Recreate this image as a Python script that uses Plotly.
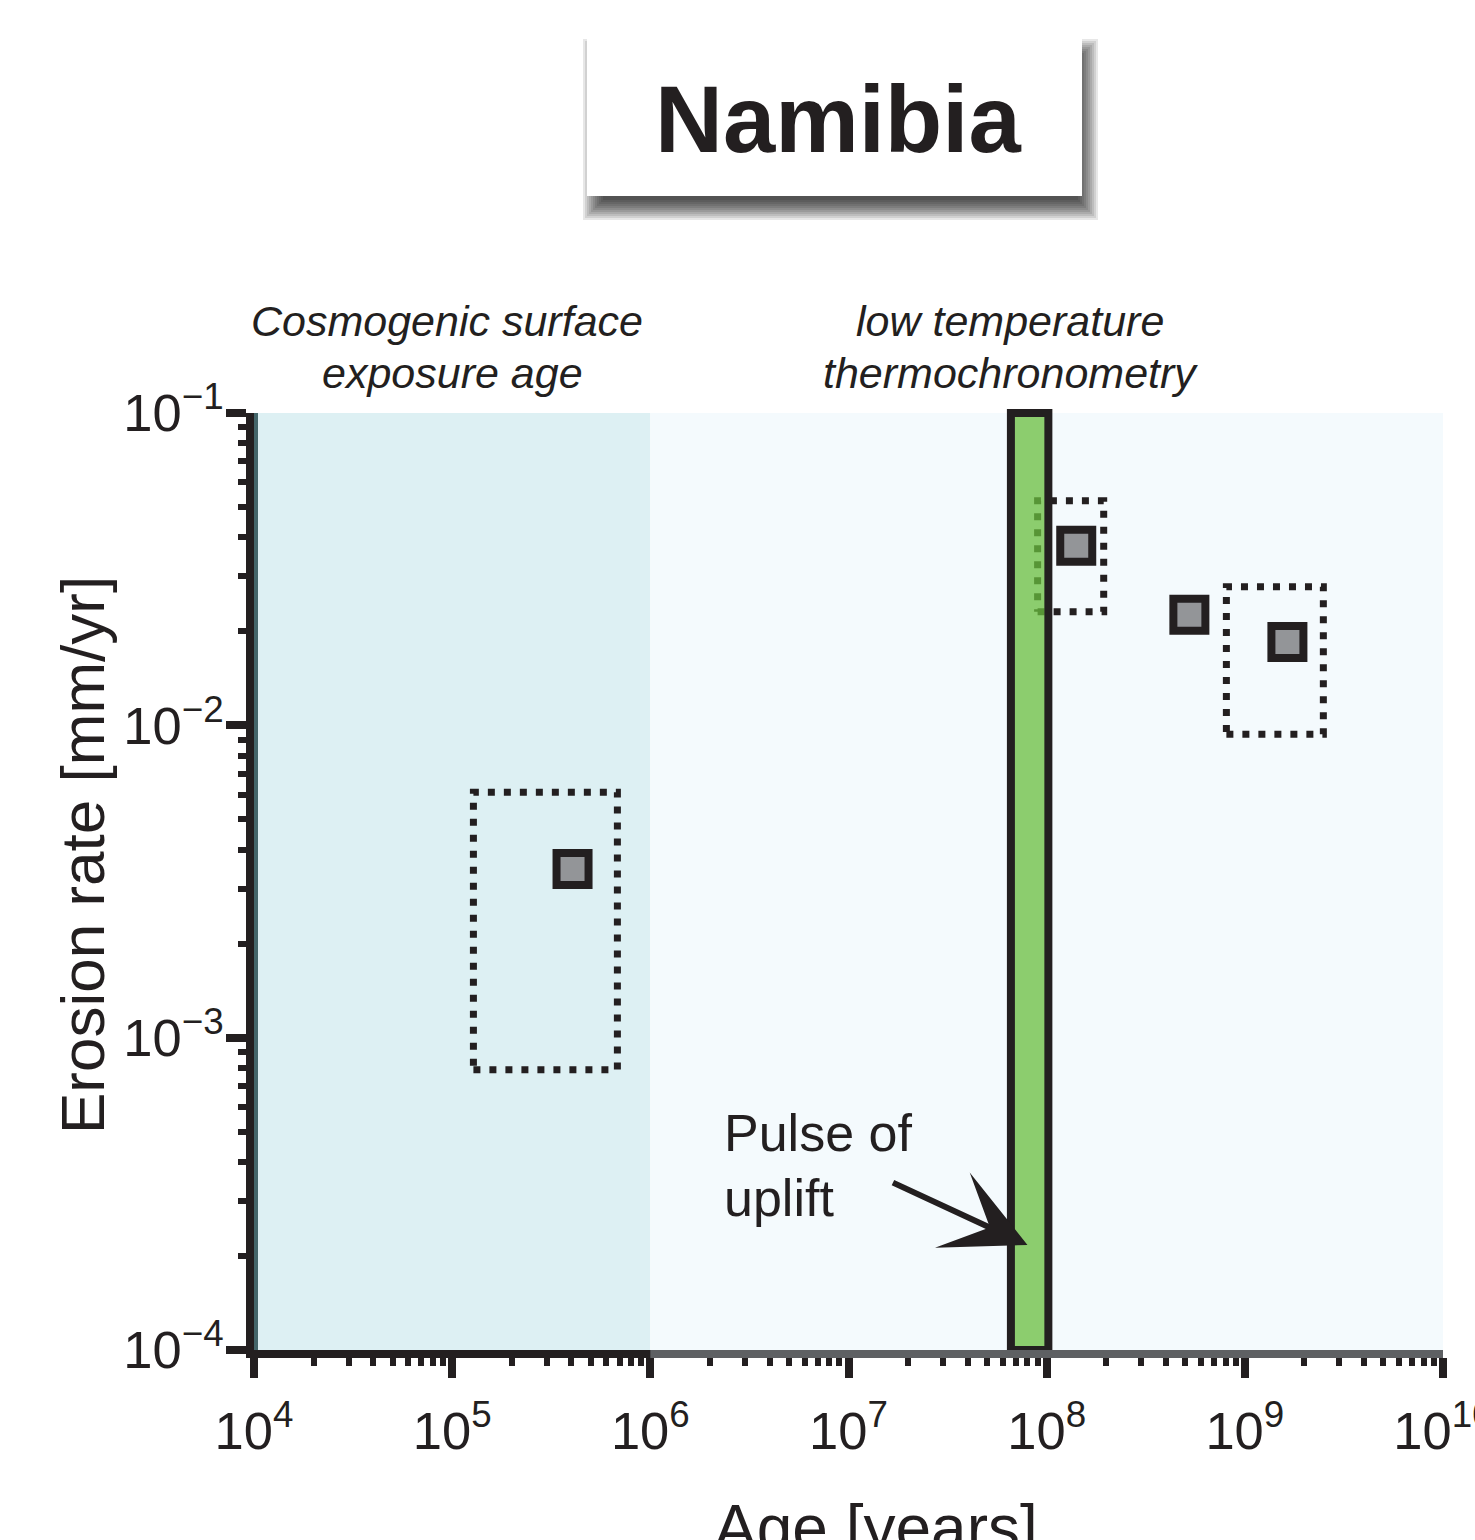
import math
import plotly.graph_objects as go

# ---------------- data ----------------
sample_age = [4.05e5, 1.41e8, 5.25e8, 1.64e9]          # years
sample_rate = [3.47e-3, 3.76e-2, 2.26e-2, 1.85e-2]     # mm/yr
box_age_min = [1.28e5, 9.0e7, 8.07e8]
box_age_max = [6.82e5, 1.94e8, 2.49e9]
box_rate_min = [7.9e-4, 2.31e-2, 9.36e-3]
box_rate_max = [6.11e-3, 5.24e-2, 2.78e-2]
cosmo_range = [1e4, 1e6]
thermo_range = [1e6, 1e10]
uplift_range = [6.6e7, 1.02e8]
arrow_tip_age = 8.0e7
arrow_tip_rate = 2.17e-4
x_range_exp = [4, 10]
y_range_exp = [-4, -1]

# ---------------- layout helpers ----------------
W, H = 1475, 1540
L, R, T, B = 254, 32, 413, 190
PW = W - L - R
PH = H - T - B


def px(x):
    return (x - L) / PW


def py(y):
    return (H - B - y) / PH


INK = "#231f20"
FONT = "Liberation Sans, Arial, Helvetica, sans-serif"

fig = go.Figure()

# dotted uncertainty boxes
for a0, a1, r0, r1 in zip(box_age_min, box_age_max, box_rate_min, box_rate_max):
    fig.add_trace(go.Scatter(
        x=[a0, a1, a1, a0, a0], y=[r0, r0, r1, r1, r0], mode="lines",
        line=dict(color=INK, width=7, dash="7px,9px"),
        hoverinfo="skip", showlegend=False))

# sample points
fig.add_trace(go.Scatter(
    x=sample_age, y=sample_rate, mode="markers",
    marker=dict(symbol="square", size=32, color="#939598",
                line=dict(color=INK, width=8)),
    showlegend=False))

shapes = []
# shaded method ranges
shapes.append(dict(type="rect", xref="x", yref="paper", x0=cosmo_range[0], x1=cosmo_range[1],
                   y0=0, y1=1, fillcolor="#ddf0f3", line=dict(width=0), layer="below"))
shapes.append(dict(type="rect", xref="x", yref="paper", x0=thermo_range[0], x1=thermo_range[1],
                   y0=0, y1=1, fillcolor="#f4fafd", line=dict(width=0), layer="below"))
# uplift pulse bar
shapes.append(dict(type="rect", xref="x", yref="paper", x0=uplift_range[0], x1=uplift_range[1],
                   y0=0, y1=1, fillcolor="rgba(105,190,62,0.75)",
                   line=dict(color=INK, width=8), layer="above"))
# greyed bottom spine under the light overlay
shapes.append(dict(type="line", xref="x", yref="paper", x0=thermo_range[0], x1=thermo_range[1],
                   y0=py(1354), y1=py(1354), line=dict(color="#5e6063", width=8), layer="above"))
# dark teal inner edge of left spine
shapes.append(dict(type="line", xref="paper", yref="paper", x0=px(256), x1=px(256),
                   y0=0, y1=1, line=dict(color="#44666a", width=4), layer="above"))

# title box with soft shadow
bx0, bx1, by0, by1 = 587, 1082, 35, 196
sdx, sdy = 6, 14
for g in range(-10, 11, 2):
    shapes.append(dict(type="rect", xref="paper", yref="paper",
                       x0=px(bx0 + sdx - g), x1=px(bx1 + sdx + g),
                       y0=py(by1 + sdy + g), y1=py(by0 + sdy - g),
                       fillcolor="rgba(0,0,0,0.095)", line=dict(width=0), layer="above"))
shapes.append(dict(type="rect", xref="paper", yref="paper",
                   x0=px(bx0), x1=px(bx1), y0=py(by1), y1=py(by0),
                   fillcolor="white", line=dict(width=0), layer="above"))

annotations = []


def txt(text, x, y, size, italic=False, bold=False, xanchor="center", angle=0):
    t = text
    if bold:
        t = "<b>" + t + "</b>"
    if italic:
        t = "<i>" + t + "</i>"
    annotations.append(dict(text=t, xref="paper", yref="paper", x=px(x), y=py(y),
                            xanchor=xanchor, yanchor="middle", showarrow=False,
                            textangle=angle,
                            font=dict(family=FONT, size=size, color=INK)))


txt("Namibia", 838, 120, 94, bold=True)
txt("Cosmogenic surface", 447, 321, 43, italic=True)
txt("exposure age", 452, 373, 43, italic=True)
txt("low temperature", 1010, 321, 43, italic=True)
txt("thermochronometry", 1010, 373, 43, italic=True)
txt("Pulse of", 722, 1133, 52, xanchor="left")
txt("uplift", 722, 1198, 52, xanchor="left")
txt("Erosion rate [mm/yr]", 82, 855, 62, angle=-90)
txt("Age [years]", 876, 1528, 64)

# arrow
annotations.append(dict(
    x=math.log10(arrow_tip_age), y=math.log10(arrow_tip_rate), xref="x", yref="y",
    ax=-136, ay=-63, axref="pixel", ayref="pixel", text="", showarrow=True,
    arrowhead=3, arrowsize=2.3, arrowwidth=6, arrowcolor=INK))

axis_common = dict(
    type="log", showline=True, linewidth=8, linecolor=INK, mirror=False,
    ticks="outside", ticklen=20, tickwidth=8, tickcolor=INK, dtick=1,
    exponentformat="power", showexponent="all", showgrid=False, zeroline=False,
    tickfont=dict(family=FONT, size=42, color=INK),
    ticklabeloverflow="allow", automargin=False,
    minor=dict(ticks="outside", ticklen=8, tickwidth=6, tickcolor=INK, dtick="D1",
               showgrid=False),
)

fig.update_layout(
    width=W, height=H,
    margin=dict(l=L, r=R, t=T, b=B, pad=0, autoexpand=False),
    paper_bgcolor="white", plot_bgcolor="white",
    xaxis=dict(range=x_range_exp, ticklabelstandoff=10, **axis_common),
    yaxis=dict(range=y_range_exp, ticklabelstandoff=-6, **axis_common),
    shapes=shapes, annotations=annotations,
    showlegend=False,
)

fig.write_html("out.html")
